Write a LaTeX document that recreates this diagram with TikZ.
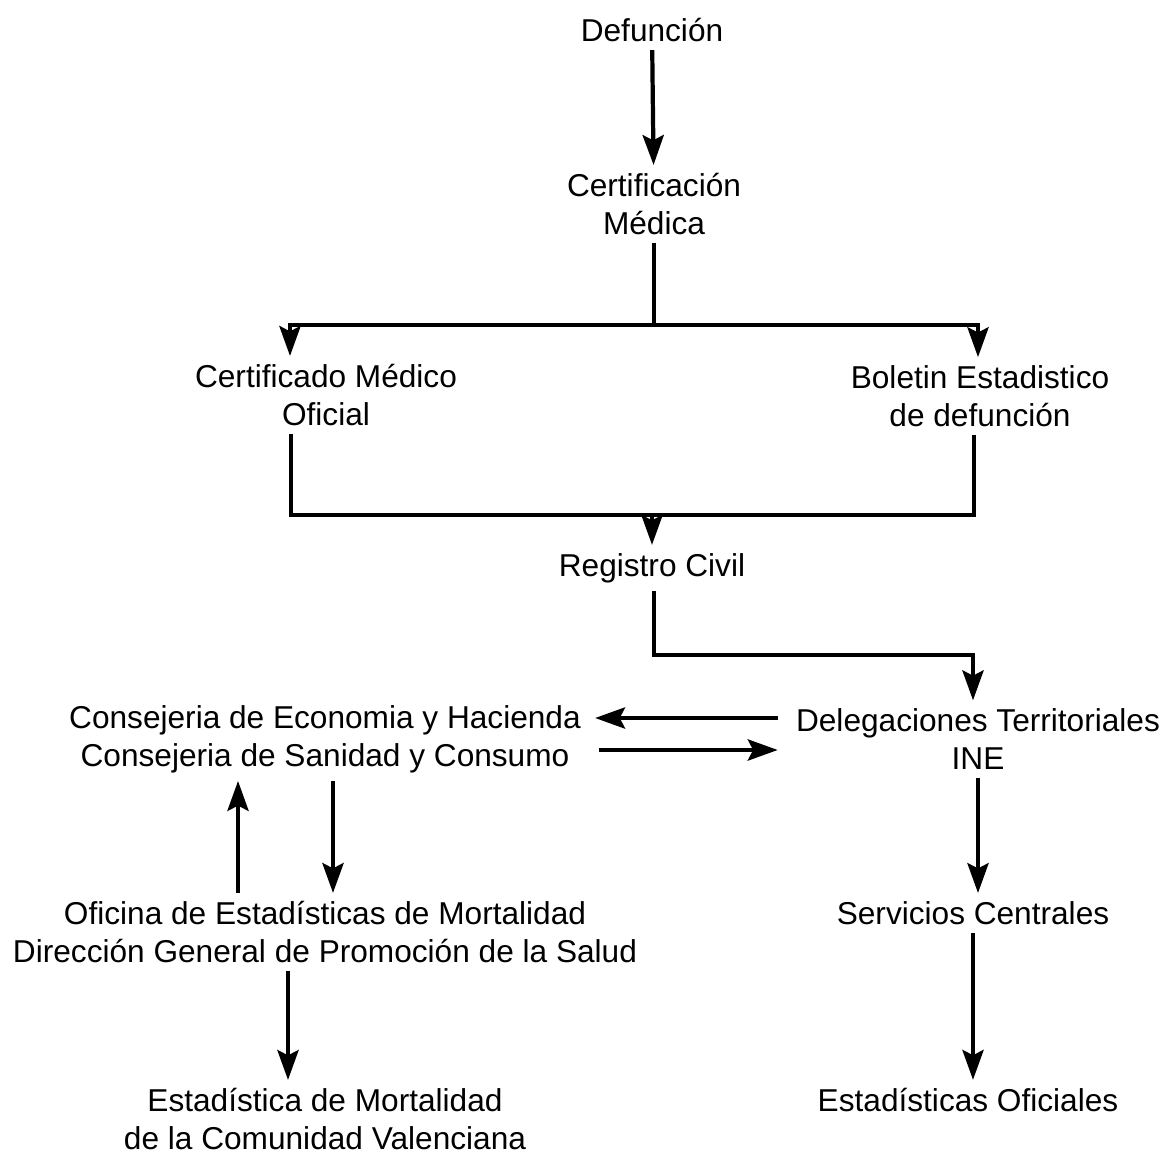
\documentclass[tikz,border=0pt]{standalone}
\usepackage{fontspec}
\setmainfont{Liberation Sans}
\usetikzlibrary{arrows.meta}
\tikzset{>={Stealth[length=17pt,width=12pt,inset=3pt]}}
\tikzset{
  box/.style={align=center,inner sep=0.16cm,font=\fontsize{18}{21.5}\selectfont},
  flow/.style={line width=2.4pt}
}

\begin{document}
\begin{tikzpicture}[x=0.02cm,y=-0.02cm]
        \useasboundingbox (0,0) rectangle (1166,1156);
        %%%
        \node[box] (def) at (652,30) {Defunción};
        \node[box] (cm) at (654,204) {Certificación\\Médica};
        \node[box] (cmo) at (326,395) {Certificado Médico\\Oficial};
        \node[box] (bed) at (980,396) {Boletin Estadistico\\de defunción};
        \node[box] (rc) at (652,568) {Registro Civil};
        \node[box] (ce) at (325,739) {Consejeria de Economia y Hacienda\\Consejeria de Sanidad y Consumo};
        \node[box] (dt) at (978,739) {Delegaciones Territoriales\\INE};
        \node[box] (of) at (325,932) {Oficina de Estadísticas de Mortalidad\\Dirección General de Promoción de la Salud};
        \node[box] (sc) at (973,913) {Servicios Centrales};
        \node[box] (em) at (325,1119) {Estadística de Mortalidad\\de la Comunidad Valenciana};
        \node[box] (eo) at (968,1100) {Estadísticas Oficiales};
        %%%
        \coordinate (top) at (654,325);
        \coordinate (cl) at (290,325);
        \coordinate (cr) at (978,325);
        \coordinate (bl) at (291,515);
        \coordinate (br) at (974,515);
        \coordinate (rk) at (654,655);
        \coordinate (dk) at (973,655);
        %%%
        \draw[flow,->] (def) -- (cm);
        \draw[flow] (cm) -- (top);
        \draw[flow,<->] (cl |- cmo.north) -- (cl) -- (cr) -- (cr |- bed.north);
        \draw[flow] (bl |- cmo.south) -- (bl) -- (br) -- (br |- bed.south);
        \draw[flow,->] (bl -| rc) -- (rc);
        %%%
        \draw[flow,->] (rc.south -| rk) -- (rk) -- (dk) -- (dk |- dt.north);
        \draw[flow,->] ([yshift=0.42cm,xshift=-0.2cm]dt.west) -- ([yshift=0.42cm,xshift=0.12cm]ce.east);
        \draw[flow,->] ([yshift=-0.22cm,xshift=0.2cm]ce.east) -- ([yshift=-0.22cm,xshift=-0.2cm]dt.west);
        %%%
        \draw[flow,->] ([xshift=-1.74cm]of.north) -- ([xshift=-1.74cm]ce.south);
        \draw[flow,->] ([xshift=0.16cm]ce.south) -- ([xshift=0.16cm]of.north);
        \draw[flow,->] ([xshift=-0.74cm]of.south) -- ([xshift=-0.74cm]em.north);
        %%%
        \draw[flow,->] (dt) -- (dt |- sc.north);
        \draw[flow,->] (sc) -- (sc |- eo.north);
    \end{tikzpicture}
\end{document}
